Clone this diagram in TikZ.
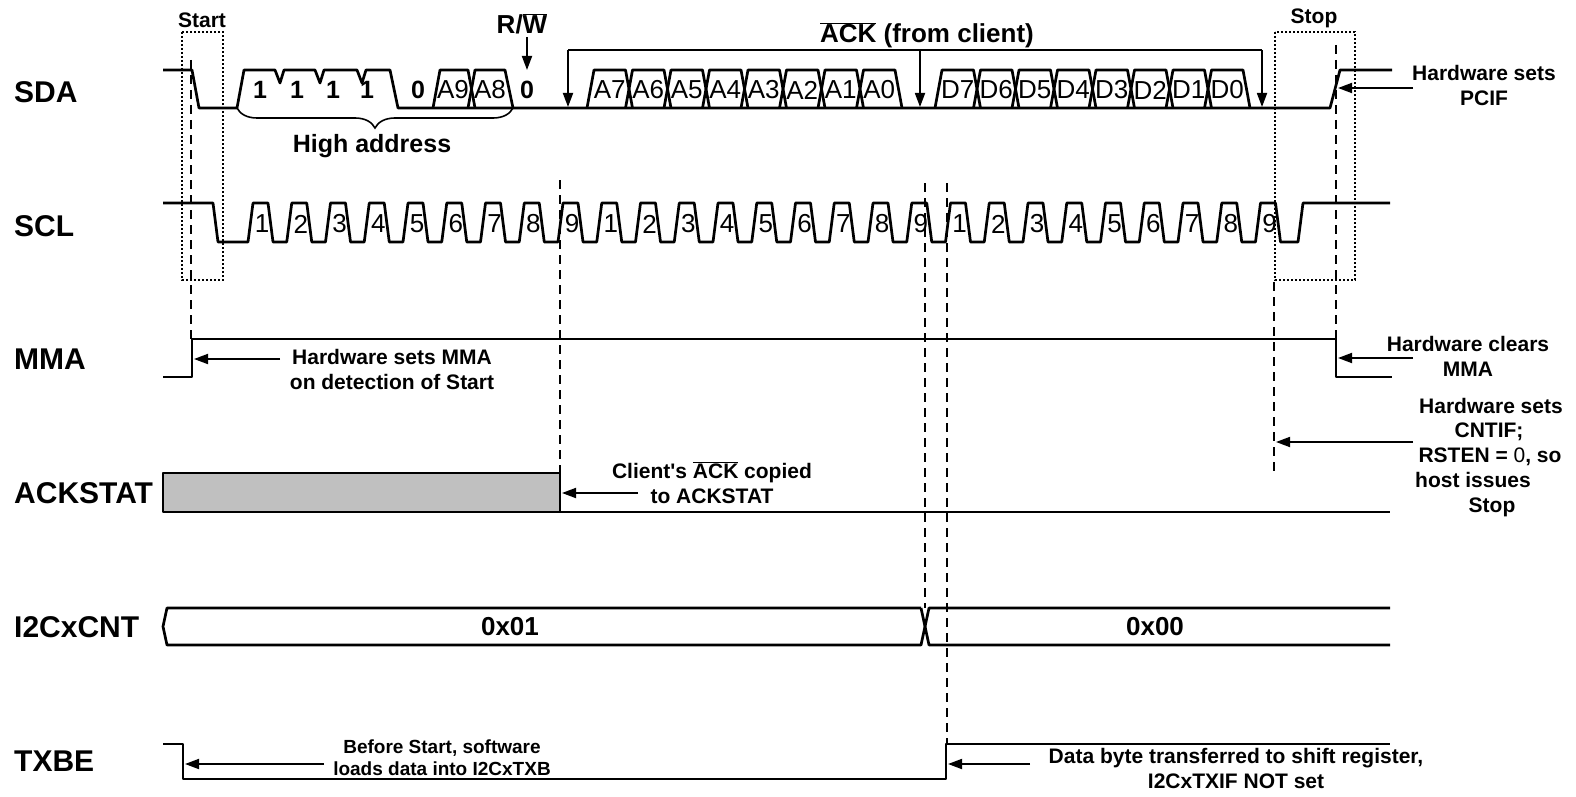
\documentclass[tikz,border=0pt]{standalone}
\usepackage{fontspec}
\setmainfont{Liberation Sans}
\usetikzlibrary{arrows.meta,decorations.pathreplacing}
\begin{document}
\begin{tikzpicture}[x=1pt,y=-1pt,
  wave/.style={line width=2.7pt,line join=round},
  arr/.style={line width=1.8pt,-{Triangle[length=14pt,width=10pt]}},
  dline/.style={line width=1.6pt,dash pattern=on 9pt off 6pt},
  dotbox/.style={line width=1.6pt,dash pattern=on 2pt off 2pt},
  sig/.style={font=\fontsize{30}{34}\bfseries\selectfont,anchor=west,inner sep=0pt},
  ann/.style={font=\fontsize{21}{25}\bfseries\selectfont,align=center,inner sep=0pt},
  annb/.style={font=\fontsize{21}{25}\bfseries\selectfont,anchor=base,inner sep=0pt},
  annsm/.style={font=\fontsize{19}{22}\bfseries\selectfont,align=center,inner sep=0pt},
  bit/.style={font=\fontsize{25}{28}\bfseries\selectfont,inner sep=0pt},
  cell/.style={font=\fontsize{26}{28}\selectfont,inner sep=0pt},
  big/.style={font=\fontsize{26}{30}\bfseries\selectfont,inner sep=0pt},
]
\fill[white] (0,0) rectangle (1576,797);
\useasboundingbox (0,0) rectangle (1576,797);

% signal names
\node[sig] (lsda) at (14,92) {SDA};
\node[sig] (lscl) at (14,226) {SCL};
\node[sig] (lmma) at (14,359) {MMA};
\node[sig] (lack) at (14,493) {ACKSTAT};
\node[sig] (lcnt) at (14,627) {I2CxCNT};
\node[sig] (ltxb) at (14,761) {TXBE};

% Start / Stop boxes
\draw[dotbox] (182,32) rectangle (223,280);
\draw[dotbox] (1275,32) rectangle (1355,280);
\node[ann] (start) at (202,20) {Start};
\node[ann] (stop) at (1314,18) {Stop};

% ---------- SDA ----------
\draw[wave] (163,70) -- (192,70) -- (199,108) -- (237,108) -- (244,70) -- (275,70)
  -- (280,83) -- (284,70) -- (315,70) -- (320,83) -- (324,70) -- (357,70)
  -- (362,83) -- (366,70) -- (390,70) -- (398,108) -- (1330,108) -- (1340,70) -- (1392,70);
\draw[wave] (433,108) -- (440,70) -- (468,70) -- (475,108);
\draw[wave] (468,108) -- (475,70) -- (505,70) -- (513,108);
\foreach \t/\x [count=\i] in {1/260,1/297,1/333,1/367,0/418}
  \node[bit] (b\i) at (\x,90) {\t};
\node[cell] (a9) at (453,90) {A9};
\node[cell] (a8) at (490,90) {A8};
\node[bit] (rw0) at (527,90) {0};
\foreach \l [count=\k from 0] in {A7,A6,A5,A4,A3,A2,A1,A0}{
  \pgfmathsetmacro\xa{587+38.5*\k}
  \draw[wave] (\xa,108) -- (\xa+7,70) -- (\xa+38.5,70) -- (\xa+45.5,108);
  \node[cell] (c\l) at (\xa+22.75,90) {\l};
}
\foreach \l [count=\k from 0] in {D7,D6,D5,D4,D3,D2,D1,D0}{
  \pgfmathsetmacro\xa{935+38.5*\k}
  \draw[wave] (\xa,108) -- (\xa+7,70) -- (\xa+38.5,70) -- (\xa+45.5,108);
  \node[cell] (c\l) at (\xa+22.75,90) {\l};
}
% brace
\draw[line width=1.6pt,decorate,decoration={brace,amplitude=20pt}] (513,108) -- (237,108);
\node[font=\fontsize{25}{28}\bfseries\selectfont,inner sep=0pt] (hiaddr) at (372,146) {High address};

% R/W and ACK arrows
\node[big] (rw) at (522,24) {R/$\overline{\mbox{W}}$};
\coordinate (rwtip) at (527,70);
\draw[arr] (527,37) -- (rwtip);
\node[big] (ackl) at (927,35) {$\overline{\mbox{ACK}}$ (from client)};
\coordinate (k1) at (568,50); \coordinate (k2) at (920,50); \coordinate (k3) at (1262,50);
\draw[line width=1.8pt] (k1) -- (k3);
\draw[arr] (k1) -- (568,107);
\draw[arr] (k2) -- (920,107);
\draw[arr] (k3) -- (1262,107);

% PCIF
\node[ann] (pcif) at (1484,85) {Hardware sets\\PCIF};
\draw[arr] (1413,88) -- (1338,88);

% ---------- SCL ----------
\draw[wave] (163,203) -- (213,203) -- (218,242)
  foreach \n in {0,...,26} { -- ({248+38.75*\n},242) -- ({253+38.75*\n},203) -- ({268+38.75*\n},203) -- ({273+38.75*\n},242) }
  -- (1298,242) -- (1303,203) -- (1390,203);
\foreach \b in {0,1,2}{
  \foreach \k in {1,...,9}{
    \pgfmathsetmacro\xx{248+38.75*(9*\b+\k-1)+14}
    \node[cell] (s\b\k) at (\xx,224) {\k};
  }
}

% ---------- dashed guides ----------
\draw[dline] (191,60) -- (191,339);
\draw[dline] (560,180) -- (560,473);
\draw[dline] (925,183) -- (925,608);
\draw[dline] (947,183) -- (947,744);
\draw[dline] (1274,282) -- (1274,473);
\draw[dline] (1336,45) -- (1336,339);

% ---------- MMA ----------
\draw[wave] (163,377) -- (192,377) -- (192,339) -- (1336,339) -- (1336,377) -- (1392,377);
\node[ann] (mmaset) at (392,369) {Hardware sets MMA\\on detection of Start};
\draw[arr] (280,359) -- (194,359);
\node[ann] (mmaclr) at (1468,356) {Hardware clears\\MMA};
\draw[arr] (1413,358) -- (1338,358);

% CNTIF
\node[annb] (cn1) at (1491,413.5) {Hardware sets};
\node[annb] (cn2) at (1489,437.5) {CNTIF;};
\node[annb] (cn3) at (1490,462.5) {RSTEN = \textmd{0}, so};
\node[annb] (cn4) at (1473,487.5) {host issues};
\node[annb] (cn5) at (1492,512.5) {Stop};
\draw[arr] (1413,442) -- (1276,442);

% ---------- ACKSTAT ----------
\draw[wave,fill={rgb,255:red,192;green,192;blue,192}] (163,473) rectangle (560,512);
\draw[wave] (560,512) -- (1390,512);
\node[ann] (ackc) at (712,483) {Client\textquotesingle s $\overline{\mbox{ACK}}$ copied\\to ACKSTAT};
\draw[arr] (638,493) -- (562,493);

% ---------- I2CxCNT ----------
\draw[wave] (921,608) -- (167,608) -- (163,626.5) -- (167,645) -- (921,645) -- (929,608) -- (1390,608);
\draw[wave] (921,608) -- (929,645) -- (1390,645);
\node[big] (cnt1) at (510,627) {0x01};
\node[big] (cnt0) at (1155,627) {0x00};

% ---------- TXBE ----------
\draw[wave] (163,744) -- (183,744) -- (183,779) -- (946,779) -- (946,744) -- (1390,744);
\node[annsm] (txb1) at (442,758) {Before Start, software\\loads data into I2CxTXB};
\draw[arr] (324,764) -- (185,764);
\node[ann] (txb2) at (1236,768) {Data byte transferred to shift register,\\I2CxTXIF NOT set};
\draw[arr] (1030,764) -- (948,764);
\end{tikzpicture}
\end{document}
